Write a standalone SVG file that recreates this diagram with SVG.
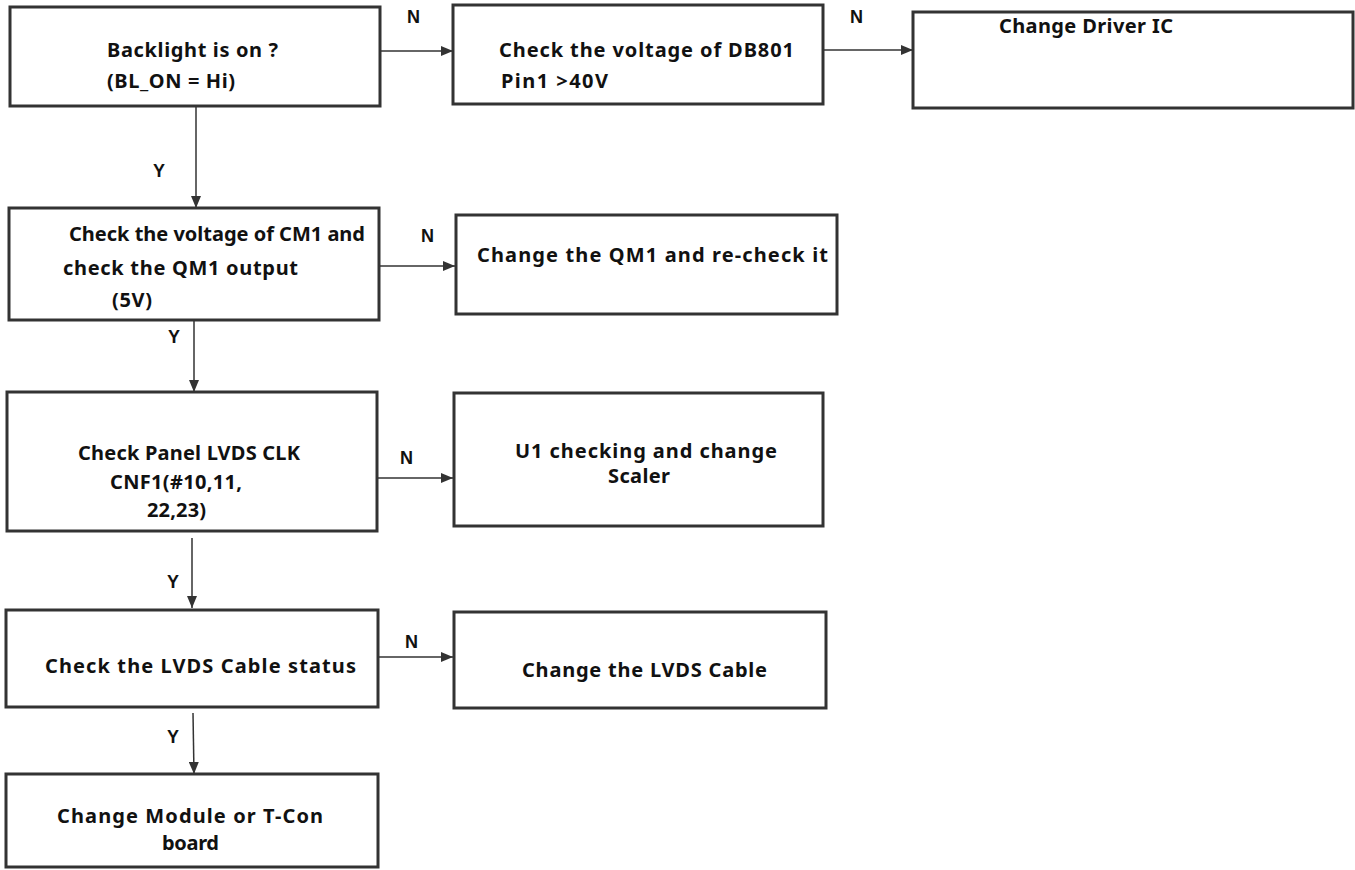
<svg xmlns="http://www.w3.org/2000/svg" width="1355" height="870" viewBox="0 0 1355 870">
<style>
.box{fill:#fff;stroke:#333;stroke-width:3}
.t{font-family:"Noto Sans","Open Sans","Liberation Sans",sans-serif;font-weight:bold;font-size:20px;fill:#111}
.lbl{font-family:"Liberation Sans","Noto Sans",sans-serif;font-weight:bold;font-size:18px;fill:#111}
.c{fill:none;stroke:#333;stroke-width:1.5}
</style>
<defs>
<marker id="ah" viewBox="0 0 12 10" refX="12" refY="5" markerWidth="12" markerHeight="10" markerUnits="userSpaceOnUse" orient="auto">
<path d="M0,0 L12,5 L0,10 Z" fill="#333"/>
</marker>
</defs>
<rect width="1355" height="870" fill="#fff"/>

<g id="connectors">
<line class="c" x1="380" y1="51" x2="453" y2="51" marker-end="url(#ah)"/>
<line class="c" x1="823" y1="50" x2="913" y2="50" marker-end="url(#ah)"/>
<line class="c" x1="196" y1="107" x2="196" y2="208" marker-end="url(#ah)"/>
<line class="c" x1="379" y1="266" x2="455" y2="266" marker-end="url(#ah)"/>
<line class="c" x1="194" y1="320" x2="194" y2="392" marker-end="url(#ah)"/>
<line class="c" x1="377" y1="478" x2="453" y2="478" marker-end="url(#ah)"/>
<line class="c" x1="192" y1="538" x2="192" y2="608" marker-end="url(#ah)"/>
<line class="c" x1="378" y1="657" x2="453" y2="657" marker-end="url(#ah)"/>
<line class="c" x1="193" y1="713" x2="194" y2="774" marker-end="url(#ah)"/>
<text class="lbl" x="407" y="23">N</text>
<text class="lbl" x="850" y="23">N</text>
<text class="lbl" x="153" y="177">Y</text>
<text class="lbl" x="421" y="242">N</text>
<text class="lbl" x="168" y="343">Y</text>
<text class="lbl" x="400" y="464">N</text>
<text class="lbl" x="167" y="588">Y</text>
<text class="lbl" x="405" y="648">N</text>
<text class="lbl" x="167" y="743">Y</text>
</g>

<g id="n1">
<rect class="box" x="10" y="7" width="370" height="99"/>
<text class="t" x="107" y="57" textLength="171" lengthAdjust="spacing">Backlight is on ?</text>
<text class="t" x="107" y="88" textLength="128" lengthAdjust="spacing">(BL_ON = Hi)</text>
</g>
<g id="n2">
<rect class="box" x="453" y="5" width="370" height="99"/>
<text class="t" x="499" y="57" textLength="295" lengthAdjust="spacing">Check the voltage of DB801</text>
<text class="t" x="501" y="88" textLength="107" lengthAdjust="spacing">Pin1 &gt;40V</text>
</g>
<g id="n3">
<rect class="box" x="913" y="12" width="440" height="96"/>
<text class="t" x="999" y="33" textLength="174" lengthAdjust="spacing">Change Driver IC</text>
</g>
<g id="n4">
<rect class="box" x="9" y="208" width="370" height="112"/>
<text class="t" x="69" y="241" textLength="296" lengthAdjust="spacing">Check the voltage of CM1 and</text>
<text class="t" x="63" y="275" textLength="235" lengthAdjust="spacing">check the QM1 output</text>
<text class="t" x="112" y="307" textLength="40" lengthAdjust="spacing">(5V)</text>
</g>
<g id="n5">
<rect class="box" x="456" y="215" width="381" height="99"/>
<text class="t" x="477" y="262" textLength="351" lengthAdjust="spacing">Change the QM1 and re-check it</text>
</g>
<g id="n6">
<rect class="box" x="7" y="392" width="370" height="139"/>
<text class="t" x="78" y="460" textLength="222" lengthAdjust="spacing">Check Panel LVDS CLK</text>
<text class="t" x="110" y="489" textLength="132" lengthAdjust="spacing">CNF1(#10,11,</text>
<text class="t" x="147" y="517" textLength="59" lengthAdjust="spacing">22,23)</text>
</g>
<g id="n7">
<rect class="box" x="454" y="393" width="369" height="133"/>
<text class="t" x="515" y="458" textLength="262" lengthAdjust="spacing">U1 checking and change</text>
<text class="t" x="608" y="483" textLength="62" lengthAdjust="spacing">Scaler</text>
</g>
<g id="n8">
<rect class="box" x="6" y="610" width="372" height="97"/>
<text class="t" x="45" y="673" textLength="311" lengthAdjust="spacing">Check the LVDS Cable status</text>
</g>
<g id="n9">
<rect class="box" x="454" y="612" width="372" height="96"/>
<text class="t" x="522" y="677" textLength="245" lengthAdjust="spacing">Change the LVDS Cable</text>
</g>
<g id="n10">
<rect class="box" x="6" y="774" width="372" height="93"/>
<text class="t" x="57" y="823" textLength="266" lengthAdjust="spacing">Change Module or T-Con</text>
<text class="t" x="162" y="850" textLength="57" lengthAdjust="spacing">board</text>
</g>
</svg>
